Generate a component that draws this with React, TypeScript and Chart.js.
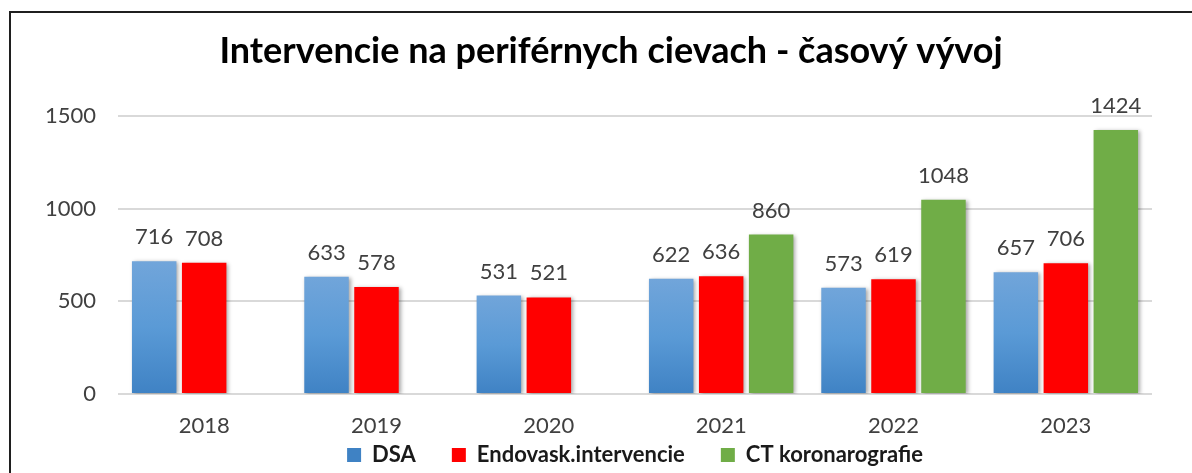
import React, { useEffect, useRef } from 'react';
import { Chart, registerables } from 'chart.js';

Chart.register(...registerables);

const years = ['2018', '2019', '2020', '2021', '2022', '2023'];
const dsaValues = [716, 633, 531, 622, 573, 657];
const endoValues = [708, 578, 521, 636, 619, 706];
const ctValues = [null, null, null, 860, 1048, 1424];
const yTickValues = [0, 500, 1000, 1500];
const seriesNames = ['DSA', 'Endovask.intervencie', 'CT koronarografie'];
const titleText = 'Intervencie na periférnych cievach - časový vývoj';

const FONT = 'Lato, "Open Sans", sans-serif';

const shadowPlugin = {
  id: 'barShadow',
  beforeDatasetsDraw(chart: any) {
    const ctx = chart.ctx;
    ctx.save();
    ctx.shadowColor = 'rgba(0,0,0,0.35)';
    ctx.shadowBlur = 4;
    ctx.shadowOffsetX = 2;
    ctx.shadowOffsetY = 1;
  },
  afterDatasetsDraw(chart: any) {
    chart.ctx.restore();
  },
};

const dataLabelPlugin = {
  id: 'dataLabels',
  afterDatasetsDraw(chart: any) {
    const ctx = chart.ctx;
    ctx.save();
    ctx.shadowColor = 'transparent';
    ctx.font = `22px ${FONT}`;
    ctx.fillStyle = '#404040';
    ctx.textAlign = 'center';
    ctx.textBaseline = 'alphabetic';
    chart.data.datasets.forEach((ds: any, i: number) => {
      const meta = chart.getDatasetMeta(i);
      meta.data.forEach((bar: any, j: number) => {
        const v = ds.data[j];
        if (v == null) return;
        ctx.fillText(String(v), bar.x, bar.y - 17);
      });
    });
    ctx.restore();
  },
};

// move the legend row down under the category labels (legend keeps its own wide item spacing)
const legendPlacePlugin = {
  id: 'legendPlace',
  afterLayout(chart: any) {
    const lg = chart.legend;
    if (!lg) return;
    const top = chart.chartArea.bottom + 14;
    lg.top = top;
    lg.height = 70;
    lg.bottom = top + 70;
  },
};

function dsaFill(c: any) {
  const chart = c.chart;
  const ys = chart.scales && chart.scales.y;
  if (c.type !== 'data' || !ys || !c.parsed || c.parsed.y == null) return '#5b9bd5';
  const top = ys.getPixelForValue(c.parsed.y);
  const bottom = ys.getPixelForValue(0);
  if (!isFinite(top) || !isFinite(bottom) || bottom - top < 1) return '#5b9bd5';
  const g = chart.ctx.createLinearGradient(0, top, 0, bottom);
  g.addColorStop(0, '#71a5da');
  g.addColorStop(0.5, '#5a9ad6');
  g.addColorStop(1, '#3f82c4');
  return g;
}

export default function App() {
  const ref = useRef<HTMLCanvasElement | null>(null);

  useEffect(() => {
    if (!ref.current) return;
    const chart = new Chart(ref.current, {
      type: 'bar',
      data: {
        labels: years,
        datasets: [
          { label: seriesNames[0], data: dsaValues, backgroundColor: dsaFill as any, borderWidth: 0 },
          { label: seriesNames[1], data: endoValues, backgroundColor: '#ff0000', borderWidth: 0 },
          { label: seriesNames[2], data: ctValues as any, backgroundColor: '#70ad47', borderWidth: 0 },
        ],
      },
      options: {
        responsive: false,
        animation: false,
        devicePixelRatio: 1,
        categoryPercentage: 0.87,
        barPercentage: 0.89,
        layout: { padding: { left: 40, right: 10, top: 0, bottom: 0 } },
        plugins: {
          title: {
            display: true,
            text: titleText,
            color: '#000000',
            font: { family: FONT, size: 36, weight: 'bold', lineHeight: 1.2 },
            padding: { top: 30, bottom: 42.8 },
          },
          legend: {
            display: true,
            position: 'bottom',
            fullSize: false,
            maxHeight: 34,
            labels: {
              boxWidth: 14,
              boxHeight: 14,
              padding: 36,
              color: '#1a1a1a',
              font: { family: FONT, size: 22, weight: 'bold' },
            },
          },
          tooltip: { enabled: false },
        },
        scales: {
          x: {
            grid: { display: false, drawTicks: false },
            border: { display: false },
            ticks: { color: '#404040', padding: 18.3, font: { family: FONT, size: 22 } },
            afterFit: (s: any) => { s.height = 45; },
          },
          y: {
            min: 0,
            max: 1500,
            grid: { color: '#d9d9d9', lineWidth: 2, drawTicks: false },
            border: { display: false },
            ticks: {
              color: '#404040',
              padding: 22,
              font: { family: FONT, size: 22 },
              callback: (v: any) => String(v),
            },
            afterBuildTicks: (s: any) => { s.ticks = yTickValues.map((v) => ({ value: v })); },
            afterFit: (s: any) => { s.width = 78; },
          },
          yRight: {
            position: 'right',
            display: true,
            grid: { display: false, drawTicks: false },
            border: { display: false },
            ticks: { display: false },
            afterFit: (s: any) => { s.width = 30; },
          },
        },
      },
      plugins: [shadowPlugin, dataLabelPlugin, legendPlacePlugin],
    });
    return () => chart.destroy();
  }, []);

  return (
    <div style={{ position: 'fixed', left: 0, top: 0, width: 1192, height: 473, overflow: 'hidden', background: '#ffffff' }}>
      <div style={{ position: 'absolute', left: 9, top: 11, width: 1300, height: 600, borderTop: '2px solid #1f1f1f', borderLeft: '2px solid #1f1f1f' }} />
      <canvas ref={ref} width={1192} height={473} style={{ position: 'absolute', left: 0, top: 0, width: 1192, height: 473, display: 'block' }} />
    </div>
  );
}
